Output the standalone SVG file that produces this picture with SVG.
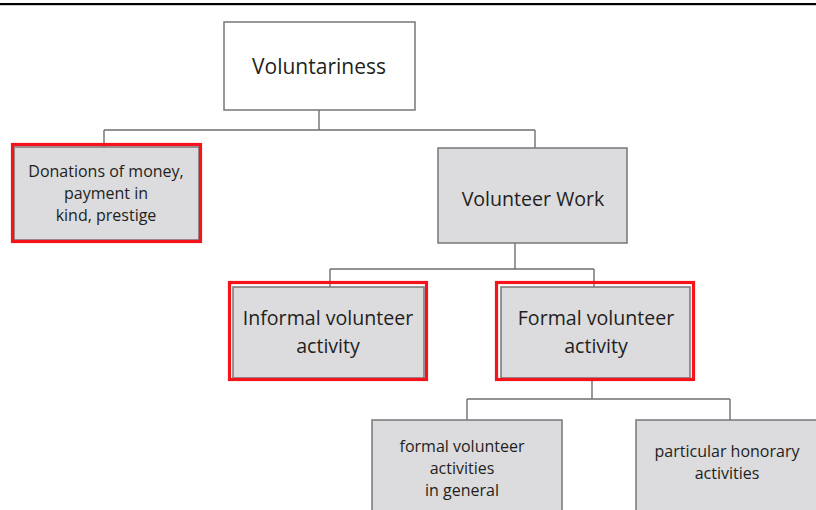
<svg xmlns="http://www.w3.org/2000/svg" width="816" height="510" viewBox="0 0 816 510">
  <style>
    .box { fill: #dcdbde; stroke: #77777a; stroke-width: 1.5; }
    .root { fill: #ffffff; stroke: #77777a; stroke-width: 1.5; }
    .hl { fill: none; stroke: #f5141c; stroke-width: 3.2; }
    .link { fill: none; stroke: #6f6f72; stroke-width: 1.4; }
    text { font-family: "Open Sans", "Liberation Sans", sans-serif; fill: #231f20; text-anchor: middle; }
    .big { font-size: 19.6px; }
    .small { font-size: 16px; }
  </style>
  <rect width="816" height="510" fill="#ffffff"/>
  <!-- top rule -->
  <rect x="0" y="3" width="816" height="2.2" fill="#000000"/>

  <g id="connectors">
    <path class="link" d="M319,110 V130 M104,130 H535 M104,130 V147 M535,130 V148"/>
    <path class="link" d="M515,243 V269 M330,269 H594 M330,269 V287 M594,269 V287"/>
    <path class="link" d="M592,378 V399 M467,399 H730 M467,399 V420 M730,399 V420"/>
  </g>

  <g id="voluntariness">
    <rect class="root" x="224" y="22" width="191" height="88"/>
    <text class="big" x="319" y="74" style="font-size:21px">Voluntariness</text>
  </g>

  <g id="donations">
    <rect class="box" x="14" y="147" width="185" height="93"/>
    <rect class="hl" x="12.5" y="144.5" width="188" height="97"/>
    <text class="small" x="106" y="177">Donations of money,</text>
    <text class="small" x="106" y="199">payment in</text>
    <text class="small" x="106" y="221">kind, prestige</text>
  </g>

  <g id="volunteer-work">
    <rect class="box" x="438" y="148" width="189" height="95"/>
    <text class="big" x="533" y="206">Volunteer Work</text>
  </g>

  <g id="informal">
    <rect class="box" x="233" y="287" width="191" height="91"/>
    <rect class="hl" x="229.5" y="282.5" width="197" height="97"/>
    <text class="big" x="328" y="325">Informal volunteer</text>
    <text class="big" x="328" y="353">activity</text>
  </g>

  <g id="formal">
    <rect class="box" x="501" y="287" width="189" height="91"/>
    <rect class="hl" x="496.5" y="282.5" width="197" height="97"/>
    <text class="big" x="596" y="325">Formal volunteer</text>
    <text class="big" x="596" y="353">activity</text>
  </g>

  <g id="formal-general">
    <rect class="box" x="372" y="420" width="190" height="100"/>
    <text class="small" x="462" y="452">formal volunteer</text>
    <text class="small" x="462" y="474">activities</text>
    <text class="small" x="462" y="496">in general</text>
  </g>

  <g id="honorary">
    <rect class="box" x="636" y="420" width="200" height="100"/>
    <text class="small" x="727" y="457">particular honorary</text>
    <text class="small" x="727" y="479">activities</text>
  </g>
</svg>
